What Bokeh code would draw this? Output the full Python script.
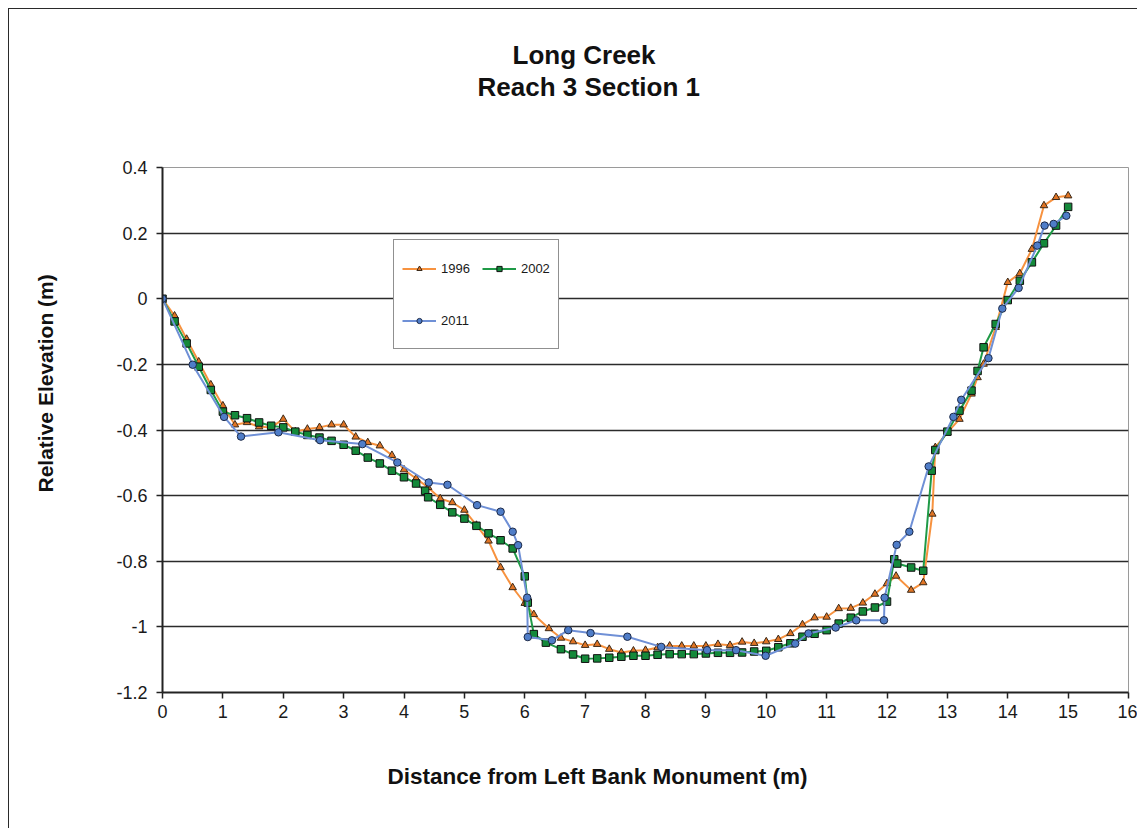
import math
from bokeh.plotting import figure
from bokeh.models import Range1d, FixedTicker, Legend, LegendItem, Title
from bokeh.embed import file_html
from bokeh.resources import INLINE

# ---------------- data ----------------
title_lines = ["Long Creek", "Reach 3 Section 1"]
x_title = "Distance from Left Bank Monument (m)"
y_title = "Relative Elevation (m)"
series_names = ["1996", "2002", "2011"]

x_ticks = list(range(0, 17))
y_ticks = [-1.2, -1, -0.8, -0.6, -0.4, -0.2, 0, 0.2, 0.4]
y_tick_labels = ["-1.2", "-1", "-0.8", "-0.6", "-0.4", "-0.2", "0", "0.2", "0.4"]

x_1996 = [0, 0.2, 0.4, 0.6, 0.8,
          1.0, 1.2, 1.4, 1.6, 1.8, 2.0, 2.2, 2.4, 2.6, 2.8, 3.0,
          3.2, 3.4, 3.6, 3.8, 4.0, 4.2, 4.4, 4.6, 4.8, 5.0, 5.2, 5.4, 5.6, 5.8, 6.0,
          6.15, 6.4, 6.6, 6.8,
          7.0, 7.2, 7.4, 7.6, 7.8, 8.0, 8.2, 8.4, 8.6, 8.8, 9.0, 9.2, 9.4, 9.6, 9.8,
          10.0, 10.2, 10.4, 10.6, 10.8, 11.0, 11.2, 11.4, 11.6, 11.8, 12.0,
          12.15, 12.4, 12.6, 12.75, 12.8,
          13.0, 13.2, 13.4, 13.5, 13.6, 13.8, 14.0, 14.2, 14.4, 14.6, 14.8, 15.0]
y_1996 = [0, -0.052, -0.123, -0.192, -0.262,
          -0.326, -0.384, -0.377, -0.39, -0.392, -0.367, -0.405, -0.397, -0.392, -0.384, -0.384,
          -0.421, -0.438, -0.448, -0.477, -0.521, -0.548, -0.575, -0.609, -0.621, -0.644, -0.69, -0.738, -0.819, -0.880, -0.928,
          -0.962, -1.005, -1.034, -1.045,
          -1.056, -1.053, -1.068, -1.078, -1.073, -1.071, -1.063, -1.058, -1.058, -1.058, -1.058, -1.053, -1.056, -1.046, -1.05,
          -1.045, -1.038, -1.02, -0.993, -0.972, -0.97, -0.944, -0.943, -0.927, -0.900, -0.868,
          -0.845, -0.888, -0.865, -0.656, -0.453,
          -0.408, -0.367, -0.29, -0.24, -0.199, -0.087, 0.05, 0.077, 0.151, 0.284, 0.309, 0.314]

x_2002 = [0, 0.2, 0.4, 0.6, 0.8,
          1.0, 1.2, 1.4, 1.6, 1.8, 2.0, 2.2, 2.4, 2.6, 2.8, 3.0,
          3.2, 3.4, 3.6, 3.8, 4.0, 4.2,
          4.35, 4.4,
          4.6, 4.8, 5.0, 5.2, 5.4, 5.6, 5.8, 6.0,
          6.05, 6.15, 6.35,
          6.6, 6.8,
          7.0, 7.2, 7.4, 7.6, 7.8, 8.0, 8.2, 8.4, 8.6, 8.8, 9.0, 9.2, 9.4, 9.6, 9.8,
          10.0, 10.2, 10.4, 10.6, 10.8, 11.0, 11.2, 11.4, 11.6, 11.8, 12.0,
          12.12, 12.17, 12.4, 12.6, 12.74, 12.8,
          13.0, 13.2, 13.4, 13.5, 13.6, 13.8, 14.0, 14.2, 14.4, 14.6, 14.8, 15.0]
y_2002 = [0, -0.069, -0.136, -0.207, -0.278,
          -0.344, -0.355, -0.364, -0.377, -0.387, -0.392, -0.405, -0.415, -0.423, -0.433, -0.445,
          -0.463, -0.484, -0.502, -0.524, -0.544, -0.563,
          -0.585, -0.605,
          -0.628, -0.651, -0.670, -0.692, -0.715, -0.736, -0.761, -0.846,
          -0.926, -1.022, -1.048,
          -1.068, -1.084,
          -1.097, -1.096, -1.094, -1.091, -1.088, -1.088, -1.085, -1.083, -1.083, -1.083, -1.081, -1.079, -1.079, -1.078, -1.075,
          -1.073, -1.062, -1.05, -1.03, -1.021, -1.010, -0.990, -0.972, -0.953, -0.941, -0.923,
          -0.794, -0.807, -0.819, -0.829, -0.524, -0.461,
          -0.405, -0.341, -0.280, -0.220, -0.148, -0.077, -0.004, 0.055, 0.111, 0.169, 0.223, 0.280]

x_2011 = [0, 0.5, 1.02, 1.3, 1.92, 2.61, 3.31, 3.89, 4.41, 4.72, 5.21, 5.6, 5.8, 5.89,
          6.04, 6.05, 6.45, 6.72, 7.09, 7.7, 8.26, 9.02, 9.5, 9.99, 10.48, 10.7, 11.15,
          11.49, 11.95, 11.96, 12.16, 12.37, 12.69, 13.1, 13.23, 13.68, 13.91, 14.18,
          14.49, 14.61, 14.76, 14.97]
y_2011 = [0, -0.201, -0.360, -0.420, -0.407, -0.431, -0.443, -0.499, -0.560, -0.567, -0.629, -0.649, -0.710, -0.751,
          -0.911, -1.031, -1.041, -1.010, -1.019, -1.030, -1.061, -1.071, -1.071, -1.088, -1.051, -1.020, -1.002,
          -0.980, -0.980, -0.911, -0.750, -0.710, -0.511, -0.360, -0.308, -0.181, -0.030, 0.033,
          0.162, 0.223, 0.228, 0.253]

# ---------------- figure ----------------
FONT = "Liberation Sans"
TXT = "#111111"

p = figure(width=1129, height=820, output_backend="svg", toolbar_location=None,
           x_range=Range1d(0, 16), y_range=Range1d(-1.2, 0.4),
           min_border_left=153, min_border_right=10, min_border_top=158, min_border_bottom=137,
           background_fill_color="white", border_fill_color="white")
p.styles = {"margin-left": "8px", "margin-top": "8px",
            "border-left": "1px solid #2a2a2a", "border-top": "1px solid #2a2a2a"}
p.outline_line_color = "#9a9a9a"
p.outline_line_width = 1

p.xgrid.visible = False
p.ygrid.ticker = FixedTicker(ticks=[t for t in y_ticks if t not in (0.4, -1.2)])
p.ygrid.grid_line_color = "#2b2b2b"
p.ygrid.grid_line_width = 1.6

for ax in (p.xaxis[0], p.yaxis[0]):
    ax.axis_line_color = "#222222"
    ax.axis_line_width = 2
    ax.major_tick_line_color = "#222222"
    ax.major_tick_line_width = 1.5
    ax.major_tick_in = 0
    ax.major_tick_out = 6
    ax.minor_tick_line_color = None
    ax.major_label_text_font = FONT
    ax.major_label_text_font_size = "18px"
    ax.major_label_text_color = "#1a1a1a"

p.xaxis.ticker = FixedTicker(ticks=x_ticks)
p.xaxis.major_label_standoff = 6
p.yaxis.ticker = FixedTicker(ticks=y_ticks)
p.yaxis.major_label_overrides = {t: l for t, l in zip(y_ticks, y_tick_labels)}
p.yaxis.major_label_standoff = 9

styles = [
    dict(x=x_1996, y=y_1996, line="#F7923F", marker="triangle", fill="#E07424", edge="#3b2a1a"),
    dict(x=x_2002, y=y_2002, line="#1F9A47", marker="square", fill="#14893A", edge="#111111"),
    dict(x=x_2011, y=y_2011, line="#6F90D6", marker="circle", fill="#4F7DC8", edge="#1d2a48"),
]
items = []
for name, s in zip(series_names, styles):
    r1 = p.line(s["x"], s["y"], line_color=s["line"], line_width=2)
    r2 = p.scatter(s["x"], s["y"], marker=s["marker"], size=7.5, fill_color=s["fill"],
                   line_color=s["edge"], line_width=1)
    items.append(LegendItem(label=name, renderers=[r1, r2]))

legend = Legend(items=items, location=(231, 343), orientation="horizontal", ncols=2,
                padding=8, spacing=12, margin=0,
                glyph_width=34, glyph_height=13, label_height=40, label_standoff=5,
                label_text_font=FONT, label_text_font_size="13px", label_text_color="#1a1a1a",
                border_line_color="#222222", border_line_width=1,
                background_fill_color="white", background_fill_alpha=1.0)
p.add_layout(legend)


def spacer(size):
    # empty title used only as room between panels
    return Title(text=" ", standoff=size, text_font_size="10px", text_font=FONT)


# above: stacked outward from the plot area
p.add_layout(spacer(53), "above")
p.add_layout(Title(text=title_lines[1], align="left", offset=315, standoff=0,
                   text_font=FONT, text_font_size="26px", text_font_style="bold",
                   text_color=TXT), "above")
p.add_layout(Title(text=title_lines[0], align="left", offset=350, standoff=0,
                   text_font=FONT, text_font_size="26px", text_font_style="bold",
                   text_color=TXT), "above")
# below
p.add_layout(spacer(26), "below")
p.add_layout(Title(text=x_title, align="left", offset=225, standoff=4,
                   text_font=FONT, text_font_size="22.5px", text_font_style="bold",
                   text_color=TXT), "below")
# left
p.add_layout(spacer(42), "left")
p.add_layout(Title(text=y_title, align="left", offset=200, standoff=4,
                   text_font=FONT, text_font_size="21px", text_font_style="bold",
                   text_color=TXT), "left")

open("out.html", "w").write(file_html(p, INLINE))
